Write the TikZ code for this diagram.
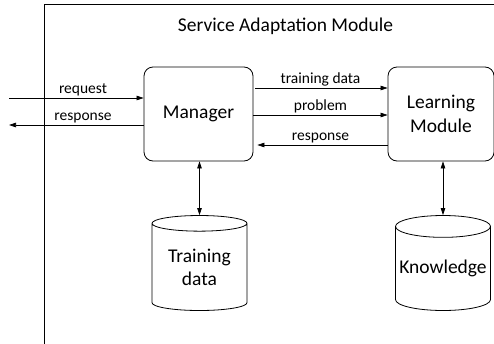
\documentclass[tikz,border=0pt]{standalone}
\usepackage{fontspec}
\setmainfont{Carlito}
\usetikzlibrary{shapes.geometric,arrows.meta}
\tikzset{
  big/.style={font=\fontsize{19.5}{23.5}\selectfont},
  box/.style={draw, rounded corners=9pt, line width=0.8pt, align=center, big},
  store/.style={draw, cylinder, shape border rotate=90, aspect=0.25,
    minimum width=95pt, minimum height=95pt, line width=0.8pt, align=center, big, inner sep=0pt,
    anchor=shape center},
  lab/.style={font=\fontsize{15.5}{18}\selectfont, inner sep=1.5pt},
  tip/.tip={Triangle[length=7pt,width=4.5pt]},
  flow/.style={-tip, line width=0.7pt},
  twoway/.style={tip-tip, line width=0.7pt},
}
\begin{document}
\begin{tikzpicture}[x=1pt,y=-1pt]
\useasboundingbox (0,0) rectangle (494,343);
% module frame
\draw[line width=0.8pt] (44,360) -- (44,4) -- (520,4);
\node[big] (title) at (285.5,26) {Service Adaptation Module};

% components
\node[box, minimum width=109pt, minimum height=94pt] (mgr) at (198.5,114) {Manager};
\node[box, minimum width=106pt, minimum height=94pt] (learn) at (441,114) {Learning\\Module};
\node[store] (tdata) at (199.5,263) {Training\\data};
\node[store] (know) at (443,263) {Knowledge};

% external interface
\coordinate (inL) at (9,98);
\coordinate (outL) at (9,125);
\draw[flow] (inL) -- (mgr.west |- inL)
  node[lab, pos=0.55, above] {request};
\draw[flow] (mgr.west |- outL) -- (outL)
  node[lab, pos=0.45, above] {response};

% manager <-> learning module
\draw[flow, shorten <=2pt] (mgr.east |- 0,88) -- (learn.west |- 0,88)
  node[lab, midway, above] {training data};
\draw[flow] (mgr.east |- 0,115) -- (learn.west |- 0,115)
  node[lab, midway, above] {problem};
\draw[flow, shorten >=4pt] (learn.west |- 0,145) -- (mgr.east |- 0,145)
  node[lab, midway, above] {response};

% storage links
\draw[twoway] (mgr.south -| tdata.north) -- (tdata.north);
\draw[twoway] (learn.south -| know.north) -- (know.north);
\end{tikzpicture}
\end{document}
